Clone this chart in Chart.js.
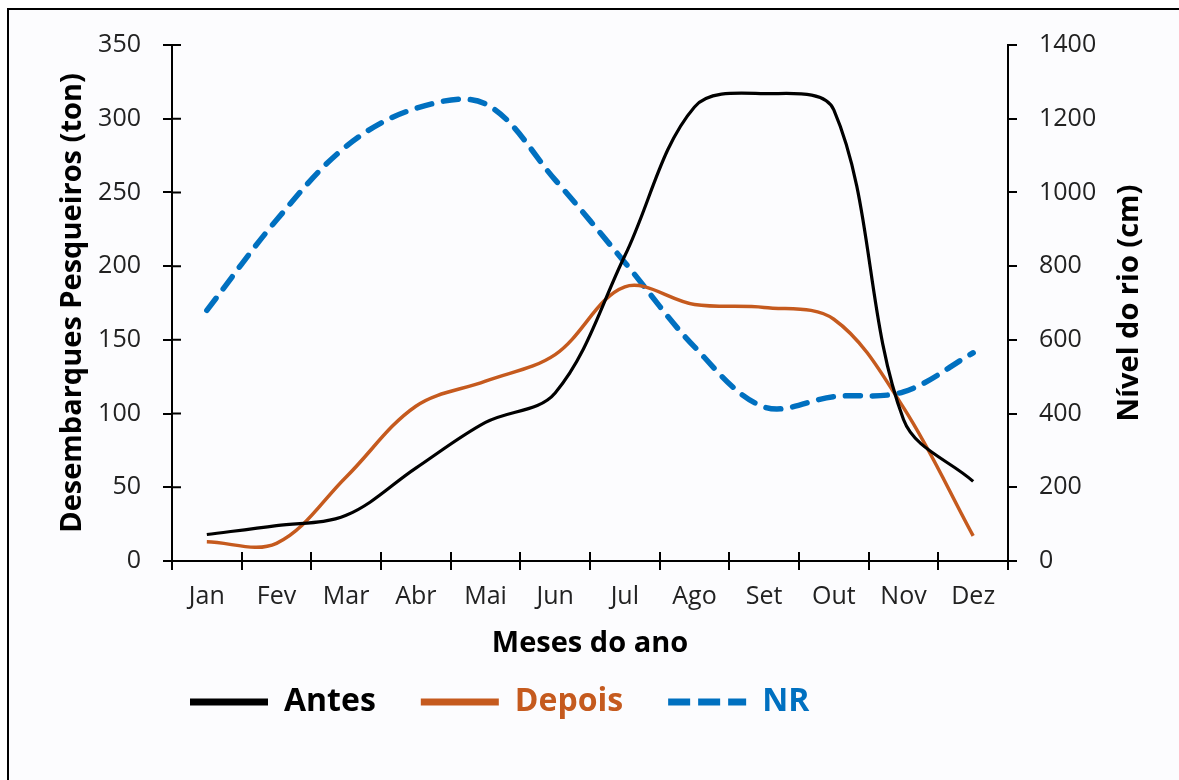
<!DOCTYPE html>
<html>
<head>
<meta charset="utf-8">
<script src="https://cdn.jsdelivr.net/npm/chart.js@4.4.1/dist/chart.umd.min.js"></script>
<style>
  html, body { margin: 0; padding: 0; background: #fff; }
  .frame {
    position: absolute; left: 7px; top: 8px; width: 1180px; height: 780px;
    border-left: 2px solid #000; border-top: 2px solid #000; background: #fcfcfe;
  }
  .wrap { position: absolute; left: 0; top: 0; width: 1179px; height: 780px; }
</style>
</head>
<body>
<div class="frame"></div>
<div class="wrap"><canvas id="landingsChart" width="1179" height="780"></canvas></div>
<script>
// Values
const meses = ["Jan", "Fev", "Mar", "Abr", "Mai", "Jun", "Jul", "Ago", "Set", "Out", "Nov", "Dez"];
const antes = [18, 24, 31, 63, 94, 114, 207, 308, 317, 306, 96, 54];
const depois = [13, 12, 57, 105, 122, 140, 186, 174, 172, 164, 104, 17];
const nivelRio = [680, 925, 1125, 1228, 1240, 1034, 810, 581, 418, 446, 459, 565];

const ticksToneladas = [0, 50, 100, 150, 200, 250, 300, 350];
const ticksNivel = [0, 200, 400, 600, 800, 1000, 1200, 1400];

const fontFamily = "'Open Sans', Roboto, sans-serif";

// Excel-like cross ticks on the left and bottom axes + right title read bottom-up
const axisExtras = {
  id: "axisExtras",
  afterLayout(chart) {
    // move the legend block to the left like in the reference
    chart.legend.left += 145;
    chart.legend.right += 145;
  },
  afterDraw(chart) {
    const { ctx, chartArea, scales } = chart;
    ctx.save();
    ctx.strokeStyle = "#000";
    ctx.lineWidth = 2;
    ctx.beginPath();
    const step = (chartArea.right - chartArea.left) / meses.length;
    for (let i = 0; i <= meses.length; i++) {
      const x = Math.round(chartArea.left + i * step);
      ctx.moveTo(x, chartArea.bottom);
      ctx.lineTo(x, chartArea.bottom - 9);
    }
    scales.y.ticks.forEach((t, i) => {
      const y = scales.y.getPixelForTick(i);
      ctx.moveTo(chartArea.left, y);
      ctx.lineTo(chartArea.left + 9, y);
    });
    ctx.stroke();

    ctx.translate(1130, (chartArea.top + chartArea.bottom) / 2);
    ctx.rotate(-Math.PI / 2);
    ctx.font = "bold 29px " + fontFamily;
    ctx.fillStyle = "#000";
    ctx.textAlign = "center";
    ctx.textBaseline = "middle";
    ctx.fillText("Nível do rio (cm)", 0, 0);
    ctx.restore();
  },
};

const config = {
  type: "line",
  data: {
    labels: meses,
    datasets: [
      {
        label: "Antes",
        data: antes,
        borderColor: "#000000",
        borderWidth: 3.2,
        yAxisID: "y",
      },
      {
        label: "Depois",
        data: depois,
        borderColor: "#c55a1e",
        borderWidth: 3.5,
        yAxisID: "y",
      },
      {
        label: "NR",
        data: nivelRio,
        borderColor: "#0070c0",
        borderWidth: 5.5,
        borderDash: [15, 12],
        borderCapStyle: "round",
        yAxisID: "y1",
      },
    ],
  },
  options: {
    responsive: false,
    animation: false,
    devicePixelRatio: 1,
    layout: { padding: { top: 45, left: 0, right: 0, bottom: 52 } },
    elements: {
      point: { radius: 0, hoverRadius: 0 },
      line: { tension: 0.35, fill: false },
    },
    plugins: {
      tooltip: { enabled: false },
      legend: {
        position: "bottom",
        align: "start",
        labels: {
          usePointStyle: true,
          pointStyleWidth: 78,
          boxHeight: 28,
          padding: 45,
          font: { family: fontFamily, size: 32, weight: "bold" },
          generateLabels: (chart) =>
            chart.data.datasets.map((ds, i) => ({
              text: ds.label,
              fontColor: ds.borderColor,
              strokeStyle: ds.borderColor,
              fillStyle: ds.borderColor,
              lineWidth: 7,
              lineDash: ds.borderDash ? [22, 8] : [],
              lineCap: "butt",
              pointStyle: "line",
              hidden: false,
              datasetIndex: i,
            })),
        },
      },
    },
    scales: {
      x: {
        offset: true,
        grid: { offset: true, drawOnChartArea: false, color: "#000", lineWidth: 2, tickLength: 9 },
        border: { color: "#000", width: 2 },
        ticks: { color: "#222", padding: 12, font: { family: fontFamily, size: 25 } },
        title: {
          display: true,
          text: "Meses do ano",
          color: "#000",
          font: { family: fontFamily, size: 29, weight: "bold" },
          padding: { top: 0, bottom: -20 },
        },
        afterFit: (scale) => {
          scale.height = 80;
        },
      },
      y: {
        position: "left",
        min: 0,
        max: 350,
        afterBuildTicks: (scale) => {
          scale.ticks = ticksToneladas.map((v) => ({ value: v }));
        },
        grid: { drawOnChartArea: false, color: "#000", lineWidth: 2, tickLength: 9 },
        border: { color: "#000", width: 2 },
        ticks: { color: "#222", padding: 22, font: { family: fontFamily, size: 25 } },
        title: {
          display: true,
          text: "Desembarques Pesqueiros (ton)",
          color: "#000",
          font: { family: fontFamily, size: 29, weight: "bold" },
          padding: { top: 55, bottom: 0 },
        },
        afterFit: (scale) => {
          scale.width = 172;
        },
      },
      y1: {
        position: "right",
        min: 0,
        max: 1400,
        afterBuildTicks: (scale) => {
          scale.ticks = ticksNivel.map((v) => ({ value: v }));
        },
        grid: { drawOnChartArea: false, color: "#000", lineWidth: 2, tickLength: 9 },
        border: { color: "#000", width: 2 },
        ticks: {
          color: "#222",
          padding: 22,
          font: { family: fontFamily, size: 25 },
          callback: (value) => String(value),
        },
        afterFit: (scale) => {
          scale.width = 171;
        },
      },
    },
  },
  plugins: [axisExtras],
};

const landingsChart = new Chart(document.getElementById("landingsChart"), config);
</script>
</body>
</html>
